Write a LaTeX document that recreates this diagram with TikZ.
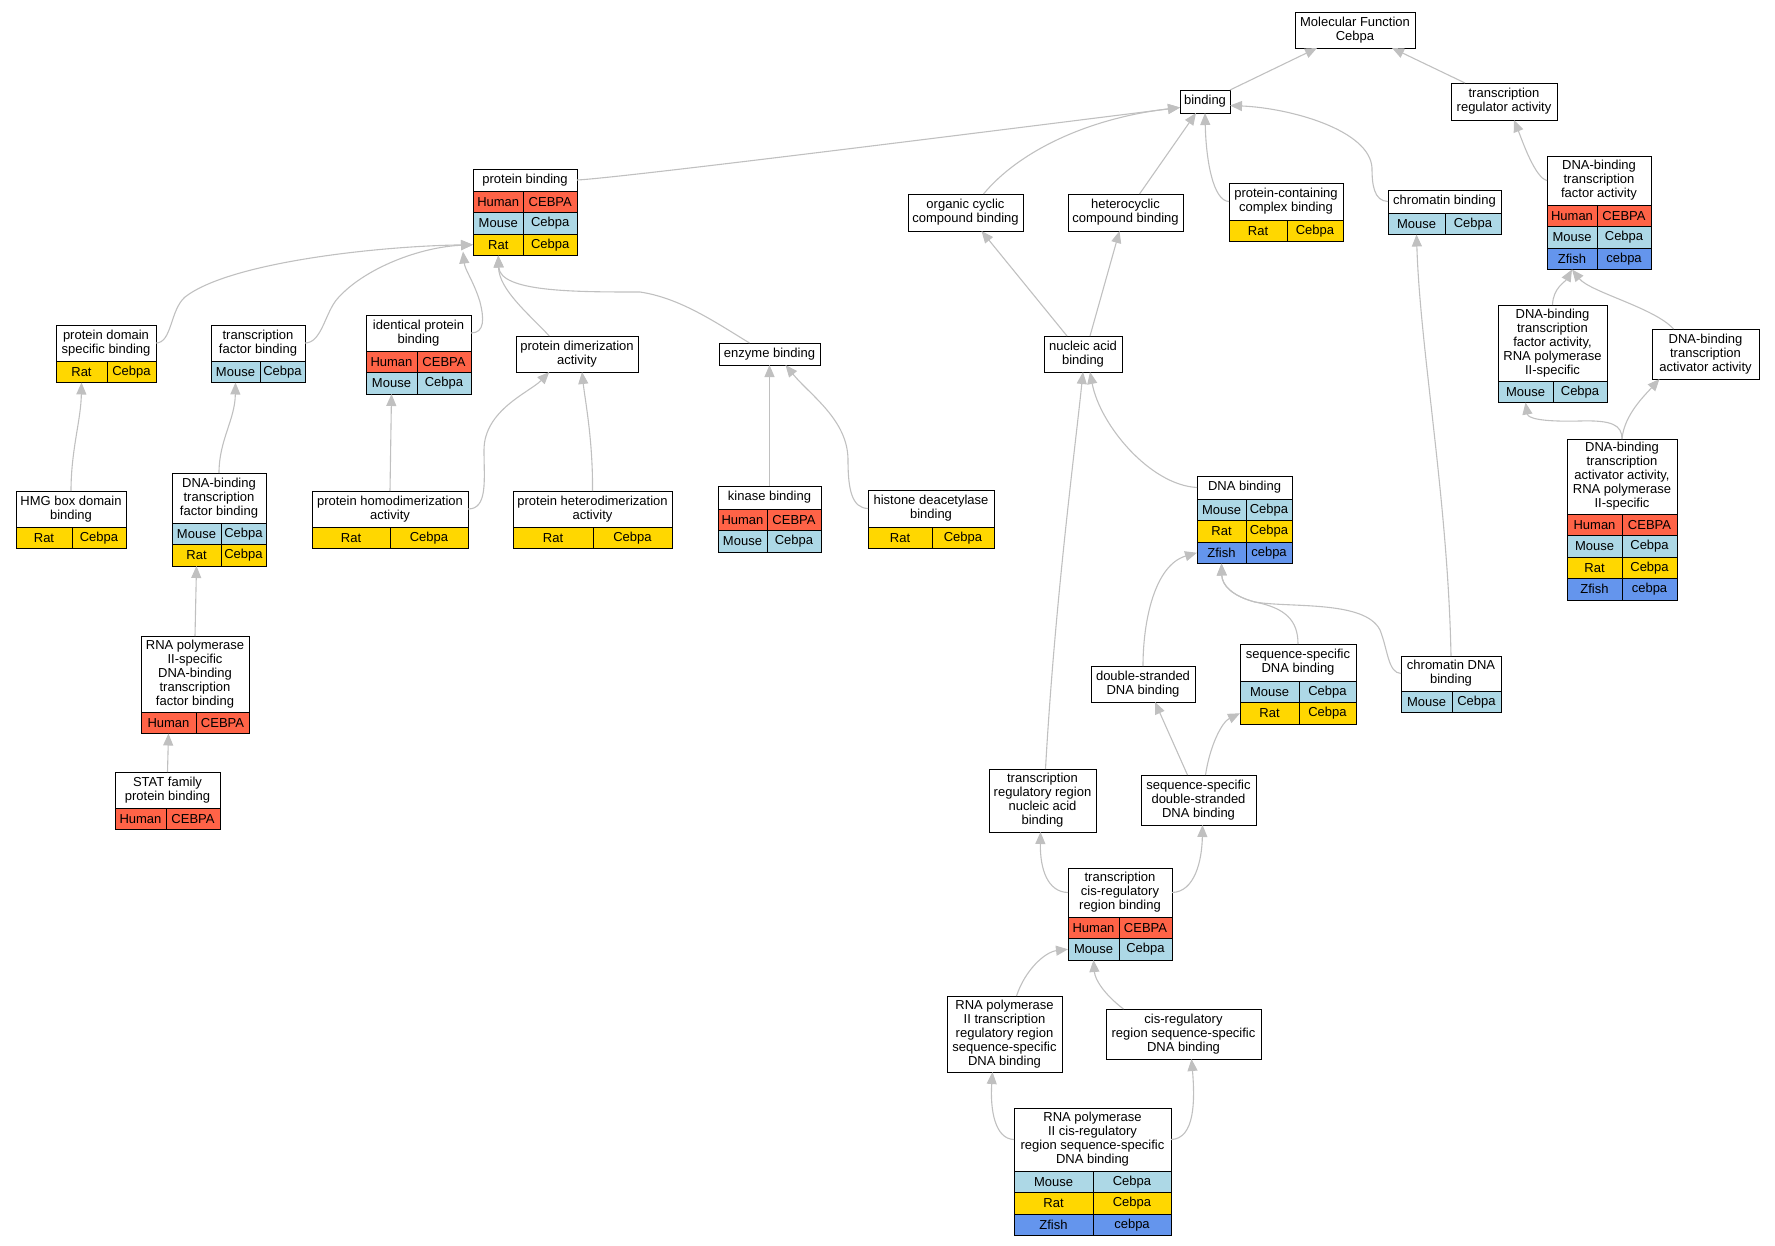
\documentclass[tikz,border=0pt]{standalone}
\usepackage{fontspec}
\setmainfont{Liberation Sans}
\usetikzlibrary{arrows.meta}

\definecolor{cHuman}{RGB}{255,99,71}
\definecolor{cMouse}{RGB}{173,216,230}
\definecolor{cRat}{RGB}{255,215,0}
\definecolor{cZfish}{RGB}{100,149,237}
\definecolor{edgegray}{RGB}{192,192,192}

\newcommand{\gofont}{\fontsize{13}{14}\selectfont}
% term box: name, left, top, right, bottom of title, text
\newcommand{\goterm}[6]{\node[term, minimum width={(#4-#2)*1pt}, minimum height={(#5-#3)*1pt}] (#1) at ({(#2+#4)/2},{(#3+#5)/2}) {#6};}
% species row: name, left, split, right, top, species, gene
\newcommand{\gorow}[7]{%
\node[cell, fill=c#6, minimum width={(#3-#2)*1pt}, anchor=north west] (#1-#6) at (#2,#5) {#6};
\node[cell, fill=c#6, minimum width={(#4-#3)*1pt}, anchor=north west] (#1-#6-gene) at (#3,#5) {#7};}

\begin{document}
\begin{tikzpicture}[x=1pt,y=-1pt,
  term/.style={draw=black, line width=1pt, fill=white, inner sep=1pt, outer sep=0pt, align=center, font=\gofont},
  cell/.style={draw=black, line width=1pt, inner sep=0pt, outer sep=0pt, minimum height=21.5pt, font=\gofont},
  isa/.style={draw=edgegray, line width=1.1pt, -{Triangle[length=12pt,width=10pt]}}]
\useasboundingbox (0,0) rectangle (1775,1245);

% top
\goterm{MF}{1295}{12}{1415}{48}{Molecular Function\\Cebpa}
\goterm{binding}{1180}{90}{1230}{113}{binding}
\goterm{tra}{1451}{83}{1557}{120}{transcription\\regulator activity}

\goterm{pb}{473}{169}{577}{191}{protein binding}
\gorow{pb}{473}{523.5}{577}{191}{Human}{CEBPA}
\gorow{pb}{473}{523.5}{577}{212.5}{Mouse}{Cebpa}
\gorow{pb}{473}{523.5}{577}{234}{Rat}{Cebpa}

\goterm{occb}{908}{194}{1023}{231}{organic cyclic\\compound binding}
\goterm{hccb}{1068}{194}{1183}{231}{heterocyclic\\compound binding}
\goterm{pccb}{1229}{183}{1343}{220}{protein-containing\\complex binding}
\gorow{pccb}{1229}{1287}{1343}{220}{Rat}{Cebpa}
\goterm{chb}{1388}{190}{1501}{213}{chromatin binding}
\gorow{chb}{1388}{1445}{1501}{213}{Mouse}{Cebpa}

\goterm{dbtfa}{1547}{156}{1651}{205}{DNA-binding\\transcription\\factor activity}
\gorow{dbtfa}{1547}{1597}{1651}{205}{Human}{CEBPA}
\gorow{dbtfa}{1547}{1597}{1651}{226.5}{Mouse}{Cebpa}
\gorow{dbtfa}{1547}{1597}{1651}{248}{Zfish}{cebpa}

% protein binding branch
\goterm{pdsb}{56}{325}{156}{361}{protein domain\\specific binding}
\gorow{pdsb}{56}{107}{156}{361}{Rat}{Cebpa}
\goterm{tfb}{211}{325}{305}{361}{transcription\\factor binding}
\gorow{tfb}{211}{260}{305}{361}{Mouse}{Cebpa}
\goterm{ipb}{366}{315}{471}{351}{identical protein\\binding}
\gorow{ipb}{366}{417}{471}{351}{Human}{CEBPA}
\gorow{ipb}{366}{417}{471}{372.5}{Mouse}{Cebpa}
\goterm{pda}{516}{336}{638}{372}{protein dimerization\\activity}
\goterm{eb}{719}{343}{820}{365}{enzyme binding}

\goterm{hmg}{16}{491}{126}{527}{HMG box domain\\binding}
\gorow{hmg}{16}{72}{126}{527}{Rat}{Cebpa}
\goterm{dbtfb}{172}{473}{266}{523}{DNA-binding\\transcription\\factor binding}
\gorow{dbtfb}{172}{221}{266}{523}{Mouse}{Cebpa}
\gorow{dbtfb}{172}{221}{266}{544.5}{Rat}{Cebpa}
\goterm{phda}{312}{491}{468}{527}{protein homodimerization\\activity}
\gorow{phda}{312}{390}{468}{527}{Rat}{Cebpa}
\goterm{phta}{513}{491}{672}{527}{protein heterodimerization\\activity}
\gorow{phta}{513}{593}{672}{527}{Rat}{Cebpa}
\goterm{kb}{718}{486}{821}{509}{kinase binding}
\gorow{kb}{718}{767}{821}{509}{Human}{CEBPA}
\gorow{kb}{718}{767}{821}{530.5}{Mouse}{Cebpa}
\goterm{hdb}{868}{490}{994}{527}{histone deacetylase\\binding}
\gorow{hdb}{868}{932}{994}{527}{Rat}{Cebpa}

\goterm{rpdbtfb}{141}{636}{249}{712}{RNA polymerase\\II-specific\\DNA-binding\\transcription\\factor binding}
\gorow{rpdbtfb}{141}{196}{249}{712}{Human}{CEBPA}
\goterm{stat}{115}{772}{220}{808}{STAT family\\protein binding}
\gorow{stat}{115}{166}{220}{808}{Human}{CEBPA}

% nucleic acid branch
\goterm{nab}{1044}{336}{1122}{372}{nucleic acid\\binding}
\goterm{dnab}{1197}{476}{1292}{499}{DNA binding}
\gorow{dnab}{1197}{1246}{1292}{499}{Mouse}{Cebpa}
\gorow{dnab}{1197}{1246}{1292}{520.5}{Rat}{Cebpa}
\gorow{dnab}{1197}{1246}{1292}{542}{Zfish}{cebpa}
\goterm{ssdb}{1240}{644}{1356}{681}{sequence-specific\\DNA binding}
\gorow{ssdb}{1240}{1299}{1356}{681}{Mouse}{Cebpa}
\gorow{ssdb}{1240}{1299}{1356}{702.5}{Rat}{Cebpa}
\goterm{dsdb}{1091}{666}{1195}{702}{double-stranded\\DNA binding}
\goterm{cdb}{1401}{656}{1501}{691}{chromatin DNA\\binding}
\gorow{cdb}{1401}{1452}{1501}{691}{Mouse}{Cebpa}
\goterm{trrnab}{989}{769}{1096}{832}{transcription\\regulatory region\\nucleic acid\\binding}
\goterm{ssdsdb}{1141}{775}{1256}{825}{sequence-specific\\double-stranded\\DNA binding}
\goterm{tcrrb}{1068}{868}{1172}{917}{transcription\\cis-regulatory\\region binding}
\gorow{tcrrb}{1068}{1119}{1172}{917}{Human}{CEBPA}
\gorow{tcrrb}{1068}{1119}{1172}{938.5}{Mouse}{Cebpa}
\goterm{rp2trr}{947}{996}{1062}{1072}{RNA polymerase\\II transcription\\regulatory region\\sequence-specific\\DNA binding}
\goterm{crssdb}{1106}{1009}{1261}{1059}{cis-regulatory\\region sequence-specific\\DNA binding}
\goterm{rp2crr}{1014}{1108}{1171}{1171}{RNA polymerase\\II cis-regulatory\\region sequence-specific\\DNA binding}
\gorow{rp2crr}{1014}{1093}{1171}{1171}{Mouse}{Cebpa}
\gorow{rp2crr}{1014}{1093}{1171}{1192.5}{Rat}{Cebpa}
\gorow{rp2crr}{1014}{1093}{1171}{1214}{Zfish}{cebpa}

% transcription factor branch
\goterm{dbtfa2}{1498}{305}{1607}{381}{DNA-binding\\transcription\\factor activity,\\RNA polymerase\\II-specific}
\gorow{dbtfa2}{1498}{1553}{1607}{381}{Mouse}{Cebpa}
\goterm{dbtaa}{1652}{329}{1759}{379}{DNA-binding\\transcription\\activator activity}
\goterm{dbtaa2}{1567}{439}{1677}{514}{DNA-binding\\transcription\\activator activity,\\RNA polymerase\\II-specific}
\gorow{dbtaa2}{1567}{1622}{1677}{514}{Human}{CEBPA}
\gorow{dbtaa2}{1567}{1622}{1677}{535.5}{Mouse}{Cebpa}
\gorow{dbtaa2}{1567}{1622}{1677}{557}{Rat}{Cebpa}
\gorow{dbtaa2}{1567}{1622}{1677}{578.5}{Zfish}{cebpa}

% is-a edges, child to parent
\draw[isa] (binding.north east) -- ([xshift=-38pt]MF.south);
\draw[isa] ([xshift=-39pt]tra.north) -- ([xshift=37pt]MF.south);
\draw[isa] (pb.east) .. controls (620,178) and (1000,130) .. ([yshift=-6pt]binding.west);
\draw[isa] ([xshift=18pt]occb.north) .. controls (1020,150) and (1090,118) .. ([yshift=-6pt]binding.west);
\draw[isa] ([xshift=14pt]hccb.north) -- ([xshift=-9pt]binding.south);
\draw[isa] (pccb.west) .. controls (1213,201) and (1206,160) .. (binding.south);
\draw[isa] (chb.west) .. controls (1374,201) and (1372,185) .. (1372,168) .. controls (1370,130) and (1290,108) .. ([yshift=-4pt]binding.east);
\draw[isa] (dbtfa.west) .. controls (1535,178) and (1522,140) .. ([xshift=10pt]tra.south);
\draw[isa] (dbtfa2.north) .. controls (1553,288) and (1565,282) .. (dbtfa-Zfish.south);
\draw[isa] ([xshift=-32pt]dbtaa.north) .. controls (1655,308) and (1590,292) .. (dbtfa-Zfish.south);
\draw[isa] (dbtaa2.north) .. controls (1622,425) and (1612,420) .. (1580,421) .. controls (1540,422) and (1528,418) .. (dbtfa2-Mouse.south);
\draw[isa] (dbtaa2.north) .. controls (1624,415) and (1645,395) .. ([xshift=-46pt]dbtaa.south);

\draw[isa] ([xshift=-16pt]nab.north) -- ([xshift=16pt]occb.south);
\draw[isa] ([xshift=7pt]nab.north) -- ([xshift=-6pt]hccb.south);
\draw[isa] (dnab.west) .. controls (1150,485) and (1100,425) .. ([xshift=7pt]nab.south);
\draw[isa] ([xshift=3pt]trrnab.north) .. controls (1055,600) and (1075,450) .. (nab.south);
\draw[isa] (cdb.north) .. controls (1448,500) and (1420,350) .. (chb-Mouse.south);
\draw[isa] (cdb.west) .. controls (1388,673) and (1388,650) .. (1380,630) .. controls (1365,600) and (1290,608) .. (1255,602) .. controls (1232,596) and (1222,585) .. (dnab-Zfish.south);
\draw[isa] (ssdb.north) .. controls (1298,620) and (1285,608) .. (1255,602) .. controls (1232,596) and (1222,585) .. (dnab-Zfish.south);
\draw[isa] (dsdb.north) .. controls (1143,620) and (1155,565) .. (dnab-Zfish.west);
\draw[isa] ([xshift=-11pt]ssdsdb.north) -- ([xshift=12pt]dsdb.south);
\draw[isa] ([xshift=7pt]ssdsdb.north) .. controls (1210,745) and (1222,722) .. (ssdb-Rat.west);
\draw[isa] (tcrrb.west) .. controls (1048,892) and (1040,870) .. ([xshift=-2pt]trrnab.south);
\draw[isa] (tcrrb.east) .. controls (1195,892) and (1202,860) .. ([xshift=4pt]ssdsdb.south);
\draw[isa] ([xshift=12pt]rp2trr.north) .. controls (1025,970) and (1045,952) .. (tcrrb-Mouse.west);
\draw[isa] ([xshift=-60pt]crssdb.north) .. controls (1105,995) and (1095,980) .. (tcrrb-Mouse.south);
\draw[isa] (rp2crr.west) .. controls (995,1139) and (990,1110) .. ([xshift=-12pt]rp2trr.south);
\draw[isa] (rp2crr.east) .. controls (1195,1139) and (1195,1100) .. ([xshift=8pt]crssdb.south);

\draw[isa] (pdsb.east) .. controls (172,343) and (170,310) .. (185,297) .. controls (230,262) and (380,246) .. (pb-Rat.west);
\draw[isa] (tfb.east) .. controls (322,343) and (325,312) .. (338,298) .. controls (365,268) and (420,247) .. (pb-Rat.west);
\draw[isa] (ipb.east) .. controls (485,333) and (484,318) .. (480,302) .. controls (474,282) and (465,270) .. ([shift={(-10,-4)}]pb-Rat.south west);
\draw[isa] (pda.147) .. controls (530,315) and (499,290) .. (pb-Rat.south);
\draw[isa] ([xshift=-20pt]eb.north) .. controls (715,322) and (680,298) .. (640,292) .. controls (575,292) and (500,292) .. (pb-Rat.south);
\draw[isa] (hmg.north) .. controls (71,450) and (81,420) .. (pdsb-Rat.south);
\draw[isa] (dbtfb.north) .. controls (219,440) and (235,420) .. (tfb-Mouse.south);
\draw[isa] (rpdbtfb.north) -- (dbtfb-Rat.south);
\draw[isa] (stat.north) -- (rpdbtfb-Human.south);
\draw[isa] (phda.north) -- (ipb-Mouse.south);
\draw[isa] (phda.east) .. controls (488,509) and (484,480) .. (484,450) .. controls (484,410) and (530,392) .. (pda.213);
\draw[isa] (phta.north) .. controls (593,440) and (585,400) .. ([xshift=5pt]pda.south);
\draw[isa] (kb.north) -- (eb.south);
\draw[isa] (hdb.west) .. controls (852,508) and (848,490) .. (848,460) .. controls (848,420) and (810,395) .. ([xshift=16pt]eb.south);
\end{tikzpicture}
\end{document}
